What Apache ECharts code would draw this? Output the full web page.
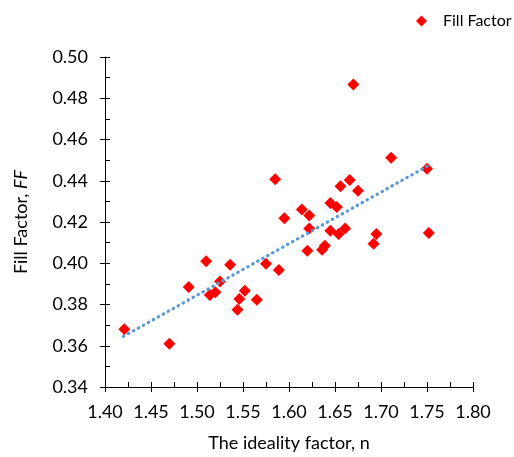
<!DOCTYPE html>
<html>
<head>
<meta charset="utf-8">
<script src="https://cdn.jsdelivr.net/npm/echarts@6/dist/echarts.min.js"></script>
<style>html,body{margin:0;padding:0;background:#fff}#c{width:514px;height:457px}</style>
</head>
<body>
<div id="c"></div>
<script>
var idealityN = [1.421, 1.470, 1.491, 1.510, 1.514, 1.520, 1.525, 1.536, 1.544, 1.546, 1.552, 1.565, 1.575, 1.589, 1.585, 1.595, 1.614, 1.622, 1.622, 1.620, 1.636, 1.639, 1.645, 1.652, 1.645, 1.654, 1.661, 1.656, 1.666, 1.675, 1.670, 1.711, 1.750, 1.692, 1.695, 1.752];
var fillFactor = [0.368, 0.361, 0.3885, 0.401, 0.3846, 0.3859, 0.3912, 0.3993, 0.3775, 0.3827, 0.3867, 0.3823, 0.3998, 0.3967, 0.4407, 0.4218, 0.4261, 0.4231, 0.4168, 0.4061, 0.4066, 0.4085, 0.4292, 0.4273, 0.4158, 0.4142, 0.4168, 0.4373, 0.4404, 0.4352, 0.4867, 0.4512, 0.4458, 0.4095, 0.4142, 0.4147];
var trendN = [1.42, 1.75];
var trendFF = [0.3645, 0.447];
var seriesName = 'Fill Factor';
var xTitle = 'The ideality factor, n';

var tickFont = "'Lato', sans-serif";
var textFont = "'Lato', 'Open Sans', sans-serif";

var pts = idealityN.map(function (v, i) { return [v, fillFactor[i]]; });
var trend = trendN.map(function (v, i) { return [v, trendFF[i]]; });

function mkAxis(isX, main) {
  var a = {
    type: 'value',
    gridIndex: 0,
    position: isX ? 'bottom' : 'left',
    min: isX ? 1.4 : 0.34,
    max: isX ? 1.8 : 0.5,
    interval: isX ? 0.05 : 0.02,
    splitLine: { show: false },
    axisLine: { show: main, onZero: false, lineStyle: { color: '#000', width: 1 } },
    axisTick: { show: true, inside: !main, length: 5, lineStyle: { color: '#000', width: 1 } },
    minorTick: { show: !main, splitNumber: 2, length: 5, lineStyle: { color: '#000', width: 1 } },
    axisLabel: {
      show: main,
      color: '#000',
      fontFamily: tickFont,
      fontSize: 18,
      margin: isX ? 16 : 17,
      formatter: function (v) { return v.toFixed(2); }
    }
  };
  if (main && isX) {
    a.name = xTitle;
    a.nameLocation = 'middle';
    a.nameGap = 47;
    a.nameTextStyle = { color: '#000', fontFamily: textFont, fontSize: 18 };
  }
  if (main && !isX) {
    a.name = '{a|Fill Factor, }{b|FF}';
    a.nameLocation = 'middle';
    a.nameGap = 75;
    a.nameTextStyle = {
      color: '#000', fontFamily: textFont, fontSize: 18,
      rich: {
        a: { color: '#000', fontFamily: textFont, fontSize: 18 },
        b: { color: '#000', fontFamily: textFont, fontSize: 18, fontStyle: 'italic' }
      }
    };
  }
  return a;
}

var chart = echarts.init(document.getElementById('c'), null, { renderer: 'canvas' });
chart.setOption({
  animation: false,
  backgroundColor: '#fff',
  grid: { left: 105, right: 41, top: 57, bottom: 70, containLabel: false },
  legend: {
    data: [seriesName],
    left: 411, top: 8,
    icon: 'diamond', itemWidth: 11, itemHeight: 11,
    textStyle: { color: '#000', fontFamily: textFont, fontSize: 16, padding: [0, 0, 0, 11] }
  },
  xAxis: [mkAxis(true, true), mkAxis(true, false)],
  yAxis: [mkAxis(false, true), mkAxis(false, false)],
  series: [
    {
      name: seriesName, type: 'scatter', xAxisIndex: 0, yAxisIndex: 0,
      symbol: 'diamond', symbolSize: 12,
      itemStyle: { color: '#FF0000', opacity: 1 },
      data: pts, z: 2
    },
    {
      name: 'trend', type: 'line', xAxisIndex: 0, yAxisIndex: 0,
      symbol: 'none', silent: true,
      lineStyle: { color: '#5B9BD5', width: 3.2, type: [0.5, 5.2], cap: 'round' },
      data: trend, z: 3
    }
  ]
});
</script>
</body>
</html>
